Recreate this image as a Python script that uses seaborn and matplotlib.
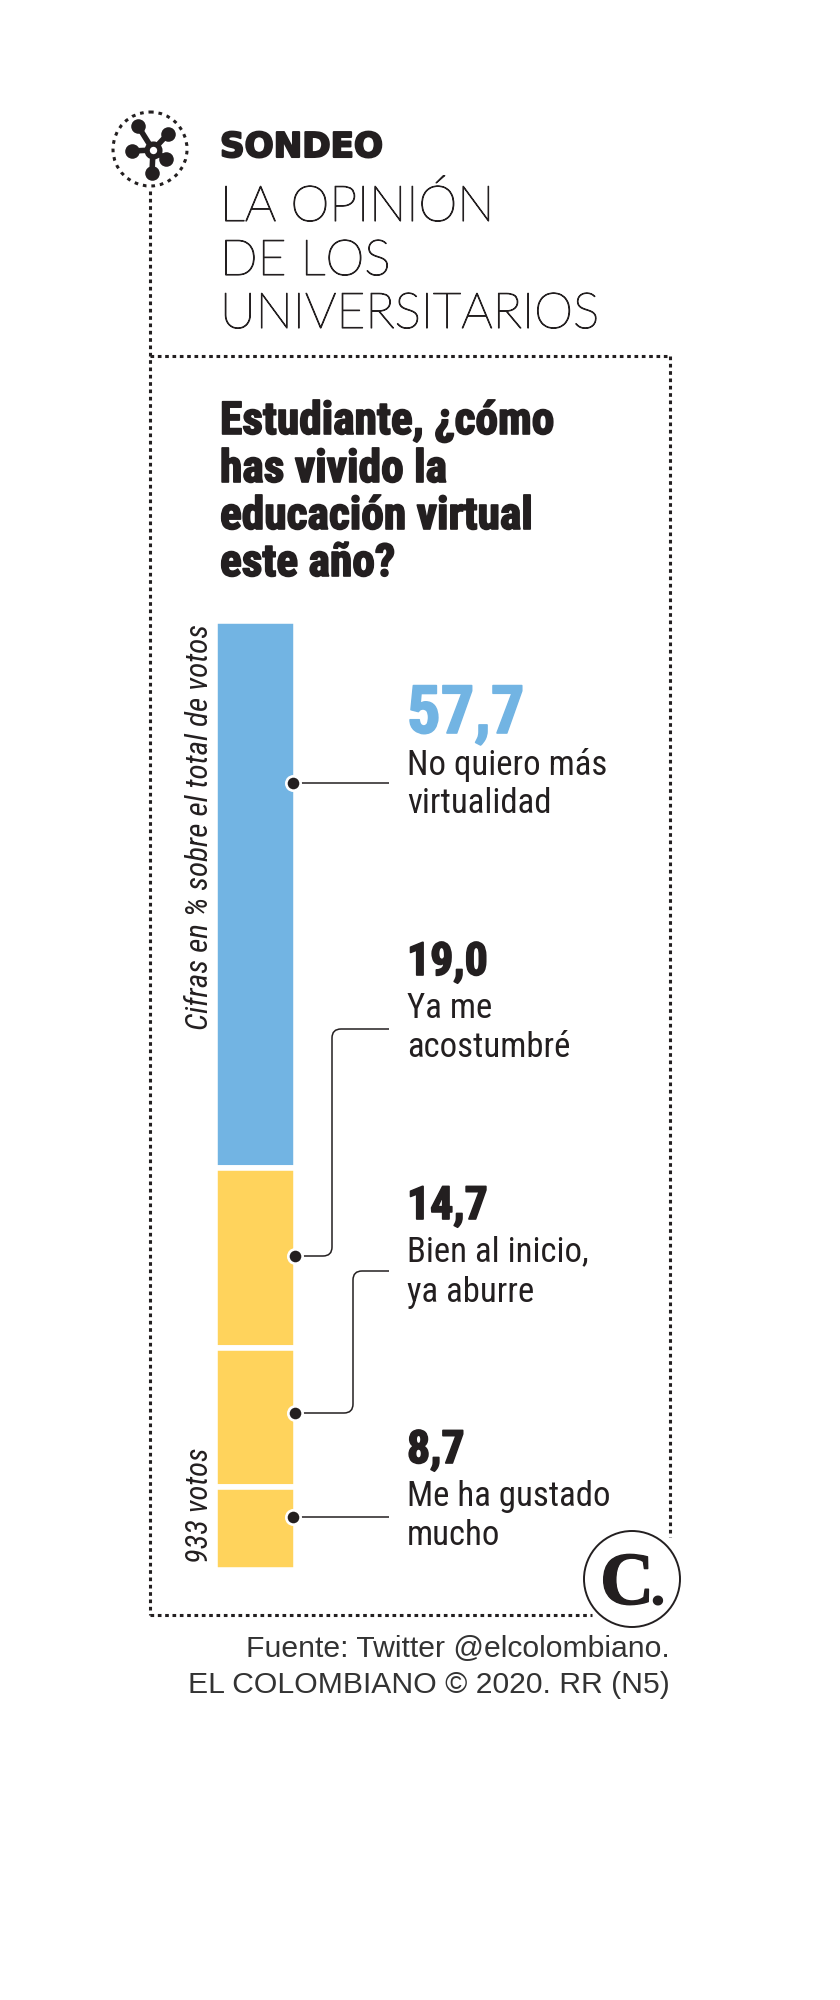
import matplotlib
matplotlib.use("Agg")
import matplotlib.pyplot as plt
import matplotlib.patheffects as pe
import pandas as pd
import seaborn as sns
from matplotlib.patches import Circle, PathPatch
from matplotlib.path import Path

# data
answers = ["No quiero más\nvirtualidad", "Ya me\nacostumbré", "Bien al inicio,\nya aburre", "Me ha gustado\nmucho"]
shares = [57.7, 19.0, 14.7, 8.7]
share_labels = ["57,7", "19,0", "14,7", "8,7"]
bar_colors = ["#72B4E3", "#FFD35C", "#FFD35C", "#FFD35C"]

title_lines = ["LA OPINIÓN", "DE LOS", "UNIVERSITARIOS"]
question_lines = ["Estudiante, ¿cómo", "has vivido la", "educación virtual", "este año?"]
source_lines = ["Fuente: Twitter @elcolombiano.", "EL COLOMBIANO © 2020. RR (N5)"]

INK = "#231F20"
NARROW = ["Liberation Sans Narrow", "Roboto Condensed", "Roboto", "DejaVu Sans"]
LIGHT = ["Lato", "Roboto", "DejaVu Sans"]

sns.set_theme(style="white")
W, H = 840, 2000
fig = plt.figure(figsize=(W / 100, H / 100), dpi=100, facecolor="white")


def px_axes(x0, y0, x1, y1):
    return fig.add_axes([x0 / W, 1 - y1 / H, (x1 - x0) / W, (y1 - y0) / H])


# stacked column, the white edge makes the gaps (half of it eats into the bars, so the axes are a bit bigger)
bar_ax = px_axes(215.25, 621.25, 295.75, 1569.75)
df = pd.DataFrame({"answer": answers, "share": shares, "bottom": pd.Series(shares).cumsum().shift(fill_value=0)})
for row, color in zip(df.itertuples(), bar_colors):
    sns.barplot(x=["voto"], y=[row.share], bottom=row.bottom, color=color, saturation=1, width=1,
                errorbar=None, edgecolor="white", linewidth=4, ax=bar_ax)
bar_ax.set_xlim(-0.5, 0.5)
bar_ax.set_ylim(sum(shares), 0)
bar_ax.axis("off")

# overlay in pixels for all the furniture
ax = px_axes(0, 0, W, H)
ax.set_xlim(0, W)
ax.set_ylim(H, 0)
ax.axis("off")
ax.patch.set_alpha(0)


def text(x, y, s, size, family=NARROW, weight="normal", color=INK, heavy=0, **kw):
    t = ax.text(x, y, s, fontsize=size, family=family, weight=weight, color=color, va="baseline", **kw)
    if heavy:
        t.set_path_effects([pe.withStroke(linewidth=heavy, foreground=color)])
    return t


# dotted frame
dots = dict(color=INK, lw=2.2, linestyle=(0, (1.2, 1.2)))
ax.plot([150, 150], [191, 1614.5], **dots)
ax.plot([150, 670], [356, 356], **dots)
ax.plot([670, 670], [356, 1537], **dots)
ax.plot([150, 592], [1614.5, 1614.5], **dots)

# icon
cx, cy = 150, 149
ax.add_patch(Circle((cx, cy), 37, fill=False, ec=INK, lw=2.2, linestyle=(0, (1.2, 1.6))))
for dx, dy in [(-15, -24), (15, -16), (-21, 1), (13, 9), (-1, 23)]:
    ax.plot([cx + 3, cx + 3 + dx], [cy + 1, cy + 1 + dy], color=INK, lw=4)
    ax.scatter(cx + 3 + dx, cy + 1 + dy, s=110, color=INK, linewidths=0, zorder=3)
ax.scatter(cx + 3, cy + 1, s=170, color=INK, linewidths=0, zorder=3)
ax.scatter(cx + 3, cy + 1, s=28, color="white", linewidths=0, zorder=4)

# header
text(220, 157, "SONDEO", 24.6, family=["DejaVu Sans"], weight="bold", heavy=1.5)
for y, line in zip([221, 275, 328], title_lines):
    text(220, y, line, 35.7, family=LIGHT, weight="light", heavy=0.8)
for y, line in zip([434, 482, 529, 576], question_lines):
    text(220, y, line, 32.7, weight="bold", heavy=1.2)

# side notes
text(208, 1030, "Cifras en % sobre el total de votos", 22.4, style="italic", rotation=90,
     ha="left", rotation_mode="anchor")
text(208, 1563, "933 votos", 22, style="italic", rotation=90, ha="left", rotation_mode="anchor")

# connectors
def connector(points):
    verts, codes = [points[0]], [Path.MOVETO]
    for i in range(1, len(points) - 1):
        (xa, ya), (xb, yb), (xc, yc) = points[i - 1], points[i], points[i + 1]
        r = 9
        sa = (xb + (r if xa > xb else -r if xa < xb else 0), yb + (r if ya > yb else -r if ya < yb else 0))
        sc = (xb + (r if xc > xb else -r if xc < xb else 0), yb + (r if yc > yb else -r if yc < yb else 0))
        verts += [sa, (xb, yb), sc]
        codes += [Path.LINETO, Path.CURVE3, Path.CURVE3]
    verts.append(points[-1])
    codes.append(Path.LINETO)
    ax.add_patch(PathPatch(Path(verts, codes), fill=False, ec=INK, lw=1.1))


connector([(293, 783), (389, 783)])
connector([(295, 1256), (332, 1256), (332, 1029), (389, 1029)])
connector([(295, 1413), (353, 1413), (353, 1271), (389, 1271)])
connector([(293, 1517), (389, 1517)])

for x, y in [(293, 783), (295, 1256), (295, 1413), (293, 1517)]:
    ax.scatter(x, y, s=150, color="white", linewidths=0, zorder=3)
    ax.scatter(x, y, s=70, color=INK, linewidths=0, zorder=4)

# value labels
value_y = [733, 975, 1219, 1463]
line_y = [(775, 813), (1018, 1057), (1261, 1302), (1506, 1545)]
for i, (label, answer) in enumerate(zip(share_labels, answers)):
    size = 48 if i == 0 else 33
    color = bar_colors[0] if i == 0 else INK
    text(407, value_y[i], label, size, weight="bold", color=color, heavy=1.2)
    for y, line in zip(line_y[i], answer.split("\n")):
        text(407, y, line, 25)

# logo
ax.add_patch(Circle((632, 1579), 48, fc="white", ec=INK, lw=1.4, zorder=5))
serif = ["Liberation Serif", "DejaVu Serif"]
text(600, 1604, "C", 54, family=serif, weight="bold", zorder=6, heavy=1)
text(657, 1605, ".", 46, family=serif, weight="bold", ha="center", zorder=6)

# source
for y, line in zip([1657, 1693], source_lines):
    text(670, y, line, 21.7, family=["Liberation Sans", "DejaVu Sans"], ha="right", color="#333333")

fig.savefig("out.png", dpi=100, facecolor="white")
